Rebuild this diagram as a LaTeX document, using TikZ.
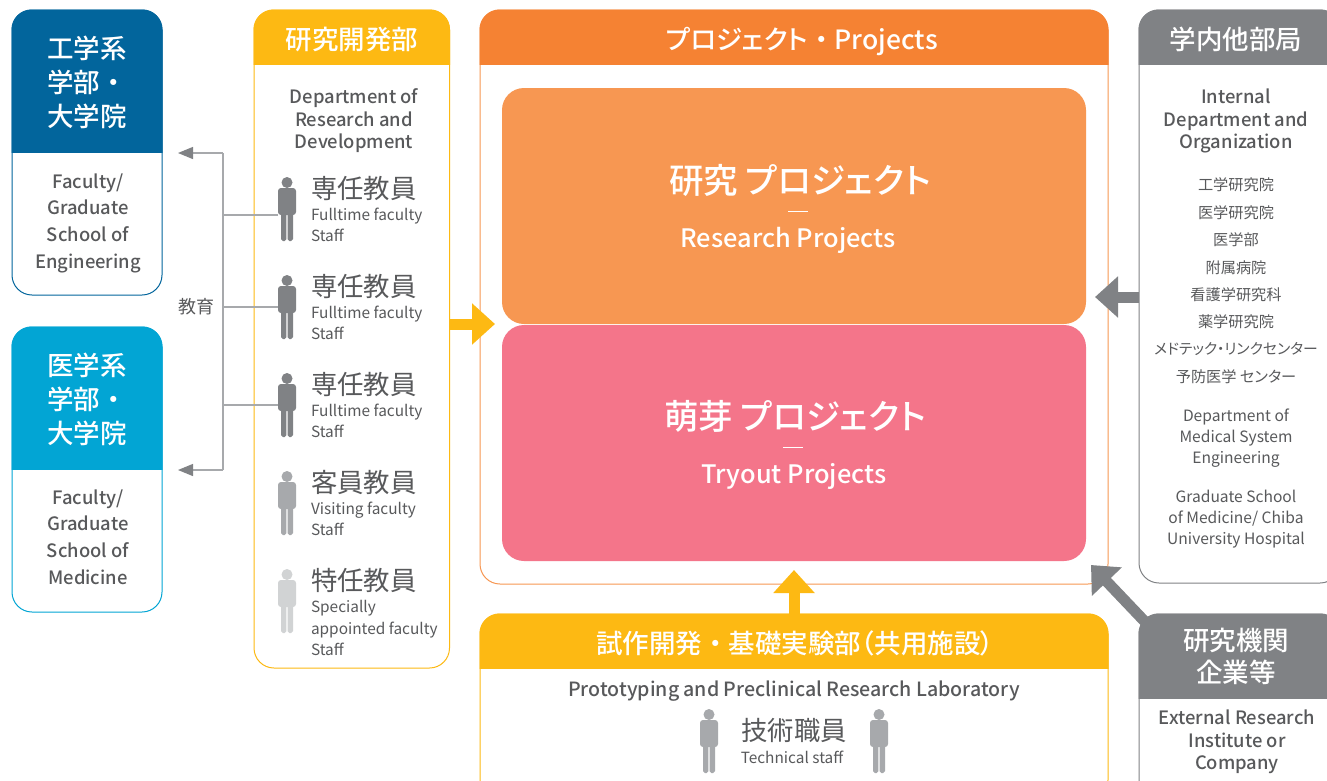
\documentclass[tikz,border=0pt]{standalone}
\usepackage{fontspec}
\setmainfont{Noto Sans CJK JP}[RawFeature=+palt]
\newfontfamily\medf{Noto Sans CJK JP Medium}[RawFeature=+palt]
\newfontfamily\plainf{Noto Sans CJK JP}
\newfontfamily\plainm{Noto Sans CJK JP Medium}
\usetikzlibrary{arrows.meta,calc}
\definecolor{cblue}{HTML}{02659C}
\definecolor{ccyan}{HTML}{02A5D4}
\definecolor{cyel}{HTML}{FDB913}
\definecolor{cora}{HTML}{F58233}
\definecolor{clora}{HTML}{F79752}
\definecolor{cpink}{HTML}{F4758A}
\definecolor{cgray}{HTML}{808285}
\definecolor{cmid}{HTML}{A7A9AC}
\definecolor{clite}{HTML}{D1D3D4}
\definecolor{ctxt}{HTML}{58595B}
\newcommand{\fs}[2]{\fontsize{#1}{#2}\selectfont}
\newcommand{\dt}{{\plainm ・}}
\tikzset{
 lab/.style={inner sep=0pt,outer sep=0pt,align=center,text=ctxt},
 leftlab/.style={lab,anchor=west,align=left},
 hdr/.style={lab,text=white,font=\medf\fs{26.5}{34}},
 bold20/.style={lab,font=\medf\fs{18.4}{22.5}},
 boldfac/.style={lab,font=\medf\fs{18.4}{26.7}},
 sub/.style={leftlab,font=\fs{15.4}{21.7}},
 role/.style={leftlab,font=\fs{26.4}{28}},
 jp/.style={lab,font=\fs{15.2}{18}},
 en/.style={lab,font=\fs{15.6}{21.3}},
 tree/.style={draw=cmid,line width=1.2pt},
 treearrow/.style={tree,-{Triangle[length=15pt,width=12pt,color=cgray]}},
 block/.style={line width=11pt,-{Triangle[length=23pt,width=40pt]}},
}
% name x1 y1 x2 y2 yhead radius fill border
\newcommand{\panel}[9]{%
 \pgfmathsetmacro{\pw}{#4-#2}\pgfmathsetmacro{\ph}{#5-#3}%
 \node[draw=#9,fill=white,line width=1pt,rounded corners=#7pt,inner sep=0pt,outer sep=0pt,
   minimum width=\pw pt,minimum height=\ph pt] (#1) at ({(#2+#4)/2},{(#3+#5)/2}) {};
 \begin{scope}
  \clip (#2-.6,#3-.6) rectangle (#4+.6,#6-.5);
  \fill[#8,rounded corners=#7pt] (#2-.5,#3-.5) rectangle (#4+.5,#6+40);
 \end{scope}
}
% x-centre, y of head top, colour
\newcommand{\person}[3]{%
 \fill[#3] (#1,#2+5.5) circle (5.5pt);
 \fill[#3,rounded corners=3pt] (#1-9,#2+38) rectangle (#1+9,#2+11);
 \fill[#3,rounded corners=1.8pt] (#1-6,#2+36) rectangle (#1-.7,#2+64);
 \fill[#3,rounded corners=1.8pt] (#1+.7,#2+36) rectangle (#1+6,#2+64);
}
\begin{document}
\begin{tikzpicture}[x=1pt,y=-1pt]
\useasboundingbox (0,0) rectangle (1327,780);
\clip (0,0) rectangle (1327,780);
\fill[white] (0,0) rectangle (1327,780);
\coordinate (tipY) at (495,324);
\coordinate (tipG) at (1095,297);
\coordinate (tipU) at (794,570);
\coordinate (tipD) at (1091,565);
\coordinate (tL1) at (178,153);
\coordinate (tL2) at (178,470);
\coordinate (tT1) at (223,153);
\coordinate (tT2) at (223,470);

\panel{fac1}{12}{10}{162}{295}{153}{20}{cblue}{cblue}
\panel{fac2}{12}{327}{162}{612}{470}{20}{ccyan}{ccyan}
\panel{rd}{254}{10}{449.5}{668}{65}{20}{cyel}{cyel}
\panel{prj}{480}{10}{1108}{584}{65}{20}{cora}{clora}
\panel{lab}{480}{614}{1108}{800}{669}{20}{cyel}{cyel}
\panel{int}{1139}{10}{1340}{583}{65}{20}{cgray}{cgray}
\draw[block,cgray] (1150,627) -- (tipD);
\panel{ext}{1139}{614}{1340}{800}{699}{20}{cgray}{cgray}

\node[fill=clora,rounded corners=22pt,minimum width=584pt,minimum height=236pt,inner sep=0pt,outer sep=0pt] (rp) at (794,206) {};
\node[fill=cpink,rounded corners=22pt,minimum width=584pt,minimum height=236pt,inner sep=0pt,outer sep=0pt] (tp) at (794,443) {};

% person figures
\person{287}{177}{cgray}
\person{287}{275}{cgray}
\person{287}{373}{cgray}
\person{287}{471}{cmid}
\person{287}{569}{clite}
\person{709}{709}{cmid}
\person{879}{709}{cmid}
\coordinate (p1) at (278,215);
\coordinate (p2) at (278,307);
\coordinate (p3) at (278,405);

% tree connectors
\draw[tree] (tT1) -- (tT2);
\draw[treearrow] (tT1) -- (tL1);
\draw[treearrow] (tT2) -- (tL2);
\draw[tree] (p1) -- (p1 -| tT1);
\draw[tree] (p2) -- (p2 -| tT1);
\draw[tree] (p3) -- (p3 -| tT1);
\node[lab,font=\fs{18}{20}] (edu) at (196,307) {教育};

% block arrows
\draw[block,cyel] (rd.east |- tipY) -- (tipY);
\draw[block,cgray] (int.west |- tipG) -- (tipG);
\draw[block,cyel] (lab.north -| tipU) -- (tipU);

% left panels
\node[hdr,align=left,anchor=north west] (t1) at (47,35.5) {工学系\\学部\dt\\大学院};
\node[boldfac] (t2) at (88,223) {Faculty/\\Graduate\\School of\\Engineering};
\node[hdr,align=left,anchor=north west] (t3) at (47,352.5) {医学系\\学部\dt\\大学院};
\node[boldfac] (t4) at (88,537) {Faculty/\\Graduate\\School of\\Medicine};

% R&D
\node[hdr] (t5) at (352,39) {研究開発部};
\node[bold20] (t6) at (354,121) {Department of\\Research and\\Development};
\node[role] (r1) at (311,188.5) {専任教員};
\node[sub] (s1) at (311,225) {Fulltime faculty\\Staff};
\node[role] (r2) at (311,286.5) {専任教員};
\node[sub] (s2) at (311,323) {Fulltime faculty\\Staff};
\node[role] (r3) at (311,384.5) {専任教員};
\node[sub] (s3) at (311,421) {Fulltime faculty\\Staff};
\node[role] (r4) at (311,482.5) {客員教員};
\node[sub] (s4) at (311,519) {Visiting faculty\\Staff};
\node[role] (r5) at (311,580.5) {特任教員};
\node[sub] (s5) at (311,628) {Specially\\appointed faculty\\Staff};

% projects
\node[hdr] (t7) at (802,41) {プロジェクト\dt Projects};
\node[lab,text=white,font=\medf\fs{34.5}{38}] (t8) at (800,180) {研究 プロジェクト};
\draw[white,line width=.8pt] (788,211) -- (808,211);
\node[lab,text=white,font=\medf\fs{25.4}{30}] (t9) at (788,240) {Research Projects};
\node[lab,text=white,font=\medf\fs{34.5}{38}] (t10) at (795,416) {萌芽 プロジェクト};
\draw[white,line width=.8pt] (783,447) -- (803,447);
\node[lab,text=white,font=\medf\fs{25.4}{30}] (t11) at (794,476) {Tryout Projects};

% lab
\node[hdr] (t12) at (795,643) {試作開発\dt 基礎実験部（共用施設）};
\node[lab,font=\medf\fs{19.6}{22}] (t13) at (794,691) {Prototyping and Preclinical Research Laboratory};
\node[lab,font=\fs{26.4}{28}] (t14) at (794,730.5) {技術職員};
\node[lab,font=\fs{15.4}{20}] (t15) at (792,757) {Technical staff};

% internal
\node[hdr] (t16) at (1236,39) {学内他部局};
\node[bold20] (t17) at (1236,121) {Internal\\Department and\\Organization};
\node[jp] (j1) at (1236,185) {工学研究院};
\node[jp] (j2) at (1236,213) {医学研究院};
\node[jp] (j3) at (1236,240) {医学部};
\node[jp] (j4) at (1236,268) {附属病院};
\node[jp] (j5) at (1236,295) {看護学研究科};
\node[jp] (j6) at (1236,322) {薬学研究院};
\node[jp,font=\fs{14.8}{18}] (j7) at (1236,349) {メドテック・リンクセンター};
\node[jp] (j8) at (1236,377) {予防医学 センター};
\node[en] (t18) at (1236,438) {Department of\\Medical System\\Engineering};
\node[en] (t19) at (1236,519) {Graduate School\\of Medicine/ Chiba\\University Hospital};

% external
\node[hdr,font=\medf\fs{26.5}{32}] (t20) at (1236,656) {研究機関\\企業等};
\node[bold20] (t21) at (1237,742) {External Research\\Institute or\\Company};
\end{tikzpicture}
\end{document}
